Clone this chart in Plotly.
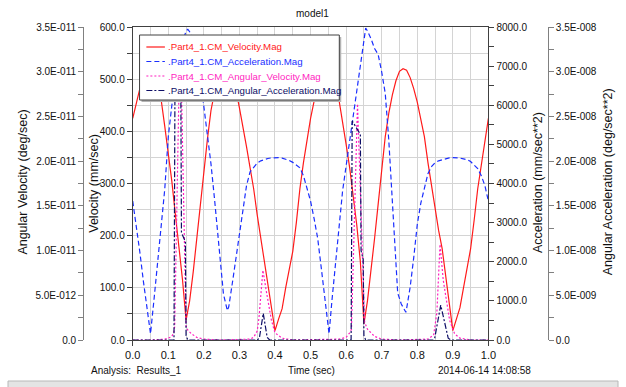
import plotly.graph_objects as go

# ---------------- data ----------------
t_vel = [0.00, 0.01, 0.02, 0.03, 0.04, 0.05, 0.06, 0.07, 0.08, 0.09,
         0.10, 0.11, 0.12, 0.13, 0.14, 0.15, 0.16, 0.17, 0.18, 0.19,
         0.20, 0.21, 0.22, 0.23, 0.24, 0.25, 0.26, 0.27, 0.28, 0.29,
         0.30, 0.31, 0.32, 0.33, 0.34, 0.35, 0.36, 0.37, 0.38, 0.39,
         0.40, 0.41, 0.42, 0.43, 0.44, 0.45, 0.46, 0.47, 0.48, 0.49,
         0.50, 0.51, 0.52, 0.53, 0.54, 0.55, 0.56, 0.57, 0.58, 0.59,
         0.60, 0.61, 0.62, 0.63, 0.64, 0.65, 0.66, 0.67, 0.68, 0.69,
         0.70, 0.71, 0.72, 0.73, 0.74, 0.75, 0.76, 0.77, 0.78, 0.79,
         0.80, 0.81, 0.82, 0.83, 0.84, 0.85, 0.86, 0.87, 0.88, 0.89,
         0.90, 0.91, 0.92, 0.93, 0.94, 0.95, 0.96, 0.97, 0.98, 0.99, 1.00]
velocity = [425, 455, 482, 505, 520, 527, 520, 498, 460, 410,
            360, 304, 240, 180, 115, 38, 75, 130, 195, 255,
            320, 385, 440, 475, 500, 515, 520, 517, 503, 480,
            445, 410, 370, 330, 290, 240, 195, 145, 100, 60,
            18, 40, 60, 100, 135, 170, 225, 290, 340, 385,
            425, 458, 483, 505, 520, 527, 520, 498, 460, 420,
            375, 330, 280, 220, 150, 31, 75, 130, 195, 260,
            320, 390, 435, 470, 497, 515, 520, 517, 503, 482,
            456, 425, 390, 340, 295, 250, 210, 175, 125, 70,
            18, 40, 62, 100, 140, 175, 230, 290, 335, 380, 425]

t_acc = [0.00, 0.01, 0.02, 0.03, 0.04, 0.05, 0.06, 0.07, 0.08, 0.09,
         0.10, 0.11, 0.12, 0.13, 0.14, 0.15, 0.155, 0.16, 0.17, 0.18,
         0.19, 0.20, 0.21, 0.22, 0.23, 0.24, 0.25, 0.255, 0.266, 0.27,
         0.28, 0.29, 0.30, 0.31, 0.32, 0.33, 0.34, 0.35, 0.36, 0.37,
         0.38, 0.39, 0.40, 0.41, 0.42, 0.43, 0.44, 0.45, 0.46, 0.47,
         0.48, 0.49, 0.50, 0.51, 0.52, 0.53, 0.54, 0.552, 0.56, 0.57,
         0.58, 0.59, 0.60, 0.61, 0.62, 0.63, 0.64, 0.655, 0.66, 0.67,
         0.68, 0.69, 0.70, 0.71, 0.72, 0.73, 0.74, 0.745, 0.755, 0.768,
         0.77, 0.78, 0.79, 0.80, 0.81, 0.82, 0.83, 0.84, 0.85, 0.86,
         0.87, 0.88, 0.89, 0.90, 0.91, 0.92, 0.93, 0.94, 0.95, 0.96,
         0.97, 0.98, 0.99, 1.00]
acceleration = [3550, 2950, 2250, 1500, 800, 160, 1050, 1950, 2900, 3850,
                5200, 6000, 6550, 7150, 7600, 7900, 7940, 7880, 7650, 7300,
                6700, 5950, 5300, 4500, 3600, 2650, 1500, 1180, 752, 850,
                1450, 2050, 2700, 3350, 3950, 4300, 4420, 4520, 4580, 4615,
                4640, 4655, 4660, 4660, 4650, 4625, 4590, 4540, 4470, 4400,
                4200, 3900, 3550, 3100, 2600, 1850, 1100, 158, 1000, 1950,
                2900, 3808, 4450, 5100, 5700, 6300, 6950, 7970, 7900, 7700,
                7450, 7300, 6850, 6300, 5100, 3500, 2100, 1200, 920, 708,
                800, 1350, 2100, 2950, 3500, 3900, 4250, 4430, 4530, 4580,
                4610, 4640, 4655, 4660, 4660, 4650, 4630, 4610, 4560, 4480,
                4380, 4200, 3950, 3550]

t_angvel = [0.00, 0.05, 0.09, 0.10, 0.11, 0.115, 0.118, 0.131, 0.136, 0.150,
            0.155, 0.165, 0.18, 0.20, 0.25, 0.33, 0.34, 0.35, 0.355, 0.366,
            0.375, 0.39, 0.40, 0.42, 0.45, 0.58, 0.60, 0.61, 0.615, 0.632,
            0.652, 0.66, 0.68, 0.70, 0.75, 0.83, 0.846, 0.855, 0.864, 0.873,
            0.891, 0.905, 0.92, 0.95, 1.00]
angular_velocity = [0, 0, 1e-13, 2e-13, 4e-13, 8e-13, 1.5e-12, 3.0e-11, 3.0e-11, 1.6e-12,
                    1.1e-12, 7e-13, 3e-13, 1e-13, 0, 1e-13, 3e-13, 1.0e-12, 2.5e-12, 7.8e-12,
                    5.6e-12, 2.2e-12, 8e-13, 2e-13, 0, 1e-13, 3e-13, 8e-13, 1.2e-12, 2.64e-11,
                    2.0e-12, 1.2e-12, 4e-13, 1e-13, 0, 1e-13, 5.6e-13, 3.0e-12, 1.07e-11, 6.7e-12,
                    2.2e-12, 7e-13, 2e-13, 0, 0]

t_angacc = [0.00, 0.116, 0.119, 0.135, 0.137, 0.148, 0.150, 0.155, 0.35, 0.356,
            0.367, 0.378, 0.385, 0.614, 0.617, 0.640, 0.642, 0.648, 0.650, 0.655,
            0.845, 0.849, 0.866, 0.887, 0.895, 1.00]
angular_acceleration = [0, 0, 3.1e-8, 3.0e-8, 1.2e-8, 1.1e-8, 5e-10, 0, 0, 2e-10,
                        2.97e-9, 3e-10, 0, 0, 2.45e-8, 2.3e-8, 1.0e-8, 0.9e-8, 5e-10, 0,
                        0, 2e-10, 3.9e-9, 2e-10, 0, 0]

series_names = [".Part4_1.CM_Velocity.Mag", ".Part4_1.CM_Acceleration.Mag",
                ".Part4_1.CM_Angular_Velocity.Mag", ".Part4_1.CM_Angular_Acceleration.Mag"]
series_colors = ["#ff1a1a", "#1a2eff", "#ff1fbf", "#0d0d66"]
series_dash = ["solid", "5px,3px", "2px,2px", "6px,2px,2px,2px"]

angvel_tickvals = [0, 5e-12, 1e-11, 1.5e-11, 2e-11, 2.5e-11, 3e-11, 3.5e-11]
angvel_ticktext = ["0.0", "5.0E-012", "1.0E-011", "1.5E-011", "2.0E-011", "2.5E-011", "3.0E-011", "3.5E-011"]
angvel_minor = [2.5e-12, 7.5e-12, 1.25e-11, 1.75e-11, 2.25e-11, 2.75e-11, 3.25e-11]
angacc_tickvals = [0, 5e-9, 1e-8, 1.5e-8, 2e-8, 2.5e-8, 3e-8, 3.5e-8]
angacc_ticktext = ["0.0", "5.0E-009", "1.0E-008", "1.5E-008", "2.0E-008", "2.5E-008", "3.0E-008", "3.5E-008"]
angacc_minor = [2.5e-9, 7.5e-9, 1.25e-8, 1.75e-8, 2.25e-8, 2.75e-8, 3.25e-8]

# ---------------- figure ----------------
W, H = 626, 387
PL, PR, PT, PB = 128, 493, 27, 340          # plot area in pixels
PH = PB - PT

def xpaper(px):
    return px / W

def ypaper(py):
    return 1 - (py - PT) / PH

FONT = "Liberation Sans, Arial, sans-serif"
FS = 10          # tick labels and captions
FS_TITLE = 12.5  # rotated axis titles
FS_LEG = 9.7     # legend entries
AX = "#404040"
TXT = "#111111"

fig = go.Figure()
traces = [(t_vel, velocity, "y"), (t_acc, acceleration, "y3"),
          (t_angvel, angular_velocity, "y2"), (t_angacc, angular_acceleration, "y4")]
for i, (tx, ty, ax) in enumerate(traces):
    fig.add_trace(go.Scatter(x=tx, y=ty, mode="lines", yaxis=ax, name=series_names[i],
                             showlegend=False,
                             line=dict(color=series_colors[i], width=1.2, dash=series_dash[i])))

GRID = "#d4d4d4"
fig.update_layout(
    width=W, height=H,
    margin=dict(l=0, r=0, t=PT, b=H - PB),
    paper_bgcolor="white", plot_bgcolor="white",
    font=dict(family=FONT, size=FS, color=TXT),
    showlegend=False,
    xaxis=dict(domain=[PL / W, PR / W], range=[0, 1], tick0=0, dtick=0.1, tickformat=".1f",
               showgrid=True, gridcolor=GRID, gridwidth=1,
               minor=dict(dtick=0.05, tick0=0, showgrid=True, gridcolor=GRID),
               showline=True, linecolor=AX, linewidth=1, mirror=True,
               ticks="outside", ticklen=5, tickcolor=AX, zeroline=False,
               tickfont=dict(size=11)),
    yaxis=dict(range=[0, 600], tick0=0, dtick=100, tickformat=".1f",
               showgrid=True, gridcolor=GRID, gridwidth=1,
               minor=dict(dtick=50, tick0=0, showgrid=True, gridcolor=GRID,
                          ticks="outside", ticklen=5, tickcolor=AX),
               showline=True, linecolor=AX, linewidth=1, mirror=True,
               ticks="outside", ticklen=5, tickcolor=AX, zeroline=False),
    yaxis2=dict(range=[0, 3.5e-11], overlaying="y", side="left", anchor="free",
                position=77 / W, tickmode="array", tickvals=angvel_tickvals,
                ticktext=angvel_ticktext,
                minor=dict(tickmode="array", tickvals=angvel_minor, ticks="outside",
                           ticklen=5, tickcolor="#808080", showgrid=False),
                showgrid=False, showline=True, linecolor="#808080", linewidth=1,
                ticks="outside", ticklen=5, tickcolor="#808080", zeroline=False),
    yaxis3=dict(range=[0, 8000], overlaying="y", side="right", anchor="x",
                tick0=0, dtick=1000, tickformat=".1f",
                minor=dict(dtick=500, tick0=0, ticks="outside", ticklen=5,
                           tickcolor=AX, showgrid=False),
                showgrid=False, showline=False, ticks="outside", ticklen=5,
                tickcolor=AX, zeroline=False),
    yaxis4=dict(range=[0, 3.5e-8], overlaying="y", side="right", anchor="free",
                position=554 / W, tickmode="array", tickvals=angacc_tickvals,
                ticktext=angacc_ticktext,
                minor=dict(tickmode="array", tickvals=angacc_minor, ticks="outside",
                           ticklen=5, tickcolor="#808080", showgrid=False),
                showgrid=False, showline=True, linecolor="#808080", linewidth=1,
                ticks="outside", ticklen=5, tickcolor="#808080", zeroline=False),
)

ann = [
    dict(text="model1", x=xpaper(312), y=ypaper(13), xanchor="center", yanchor="middle", size=FS),
    dict(text="Analysis:  Results_1", x=xpaper(83), y=ypaper(370), xanchor="left", yanchor="middle", size=FS),
    dict(text="Time (sec)", x=xpaper(311), y=ypaper(370), xanchor="center", yanchor="middle", size=FS),
    dict(text="2014-06-14 14:08:58", x=xpaper(539), y=ypaper(370), xanchor="right", yanchor="middle", size=FS),
    dict(text="Angular Velocity (deg/sec)", x=xpaper(15), y=ypaper(182), textangle=-90,
         xanchor="center", yanchor="middle", size=FS_TITLE),
    dict(text="Velocity (mm/sec)", x=xpaper(88), y=ypaper(183), textangle=-90,
         xanchor="center", yanchor="middle", size=FS_TITLE),
    dict(text="Acceleration (mm/sec**2)", x=xpaper(544), y=ypaper(183), textangle=-90,
         xanchor="center", yanchor="middle", size=FS_TITLE),
    dict(text="Angular Acceleration (deg/sec**2)", x=xpaper(616), y=ypaper(182), textangle=-90,
         xanchor="center", yanchor="middle", size=FS_TITLE),
]
for a in ann:
    sz = a.pop("size")
    fig.add_annotation(xref="paper", yref="paper", showarrow=False,
                       font=dict(family=FONT, size=sz, color=TXT), **a)

# ---------------- legend box (drawn like the original) ----------------
LX0, LX1, LY0, LY1 = 135, 340, 35, 100
fig.add_shape(type="rect", xref="paper", yref="paper",
              x0=xpaper(LX0 + 2), x1=xpaper(LX1 + 2), y0=ypaper(LY1 + 2), y1=ypaper(LY0 + 2),
              fillcolor="#b4b4b4", line=dict(width=0), layer="above")
fig.add_shape(type="rect", xref="paper", yref="paper",
              x0=xpaper(LX0), x1=xpaper(LX1), y0=ypaper(LY1), y1=ypaper(LY0),
              fillcolor="white", line=dict(color=AX, width=1), layer="above")
row_y = [47, 61.5, 76, 90.5]
for i, name in enumerate(series_names):
    fig.add_shape(type="line", xref="paper", yref="paper",
                  x0=xpaper(142), x1=xpaper(161), y0=ypaper(row_y[i]), y1=ypaper(row_y[i]),
                  line=dict(color=series_colors[i], width=1.2, dash=series_dash[i]),
                  layer="above")
    fig.add_annotation(xref="paper", yref="paper", showarrow=False,
                       x=xpaper(162), y=ypaper(row_y[i]), xanchor="left", yanchor="middle",
                       text=name, font=dict(family=FONT, size=FS_LEG, color=series_colors[i]))

# window status strip at the bottom of the screenshot
fig.add_shape(type="rect", xref="paper", yref="paper", x0=0, x1=1,
              y0=ypaper(388), y1=ypaper(381), fillcolor="#e4e4e4",
              line=dict(color="#b8b8b8", width=1), layer="below")

fig.write_html("out.html", config={"displayModeBar": False},
               post_script="document.body.style.margin='0';")
